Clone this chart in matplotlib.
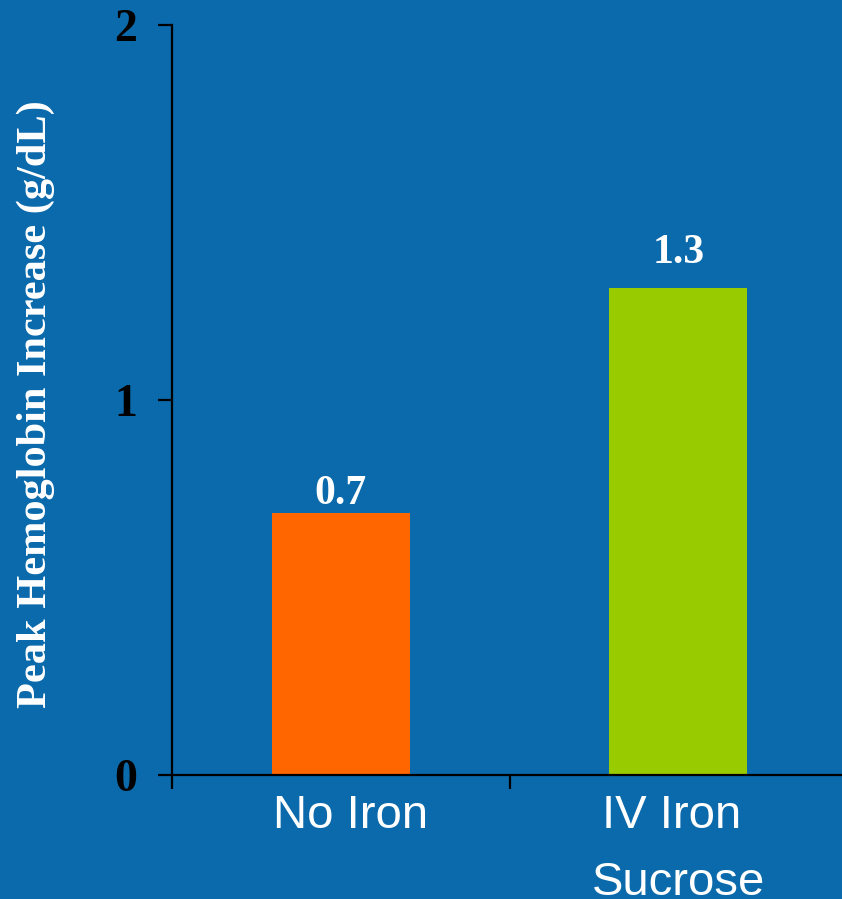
import numpy as np
import matplotlib.pyplot as plt
import matplotlib.transforms as mtransforms

categories = ['No Iron', 'IV Iron \nSucrose']
values = [0.7, 1.3]
valueLabels = ['0.7', '1.3']
barColors = ['#ff6600', '#99cc00']
yTicks = [0, 1, 2]

bgColor = '#0b6aab'

fig = plt.figure(figsize=(8.42, 8.99), dpi=100, facecolor=bgColor)
ax = fig.add_axes([172/842, 124/899, 675/842, 750/899])
ax.set_facecolor(bgColor)

x = np.arange(len(categories))
ax.bar(x, values, width=0.41, color=barColors, zorder=2)

# gap (points) between value label and bar top
labelGaps = [0, 11]
for xi, v, lab, gap in zip(x, values, valueLabels, labelGaps):
    ax.annotate(lab, (xi, v), xytext=(0, gap), textcoords='offset points',
                ha='center', va='bottom', color='white',
                fontsize=30, fontweight='bold', family='Liberation Serif')

ax.set_xlim(-0.5, 1.5)
ax.set_ylim(0, 2)

# spines
for s in ['top', 'right']:
    ax.spines[s].set_visible(False)
for s in ['left', 'bottom']:
    ax.spines[s].set_linewidth(1.6)
    ax.spines[s].set_color('black')

# y ticks
ax.set_yticks(yTicks)
ax.set_yticklabels([str(t) for t in yTicks], fontsize=33, fontweight='bold',
                   family='Liberation Serif', color='black')
ax.tick_params(axis='y', direction='out', length=10, width=1.6, pad=15)

# x ticks: marks at group boundaries, labels at centres
ax.set_xticks([-0.5, 0.5, 1.5])
ax.set_xticklabels([])
ax.tick_params(axis='x', which='major', direction='out', length=10, width=1.6)
ax.set_xticks(x, minor=True)
ax.set_xticklabels(categories, minor=True, fontsize=34, color='white',
                   family='Liberation Sans', linespacing=1.65)
ax.tick_params(axis='x', which='minor', length=0, pad=14)
# first label sits a bit right of its bar centre
lbl0 = ax.get_xticklabels(minor=True)[0]
lbl0.set_transform(lbl0.get_transform() +
                   mtransforms.ScaledTranslation(10/100, 0, fig.dpi_scale_trans))

fig.text(36/842, 1 - 404/899, 'Peak Hemoglobin Increase (g/dL)', rotation=90,
         ha='center', va='center', color='white', fontsize=30.5,
         fontweight='bold', family='Liberation Serif')

plt.savefig('out.png', dpi=100, facecolor=bgColor)
